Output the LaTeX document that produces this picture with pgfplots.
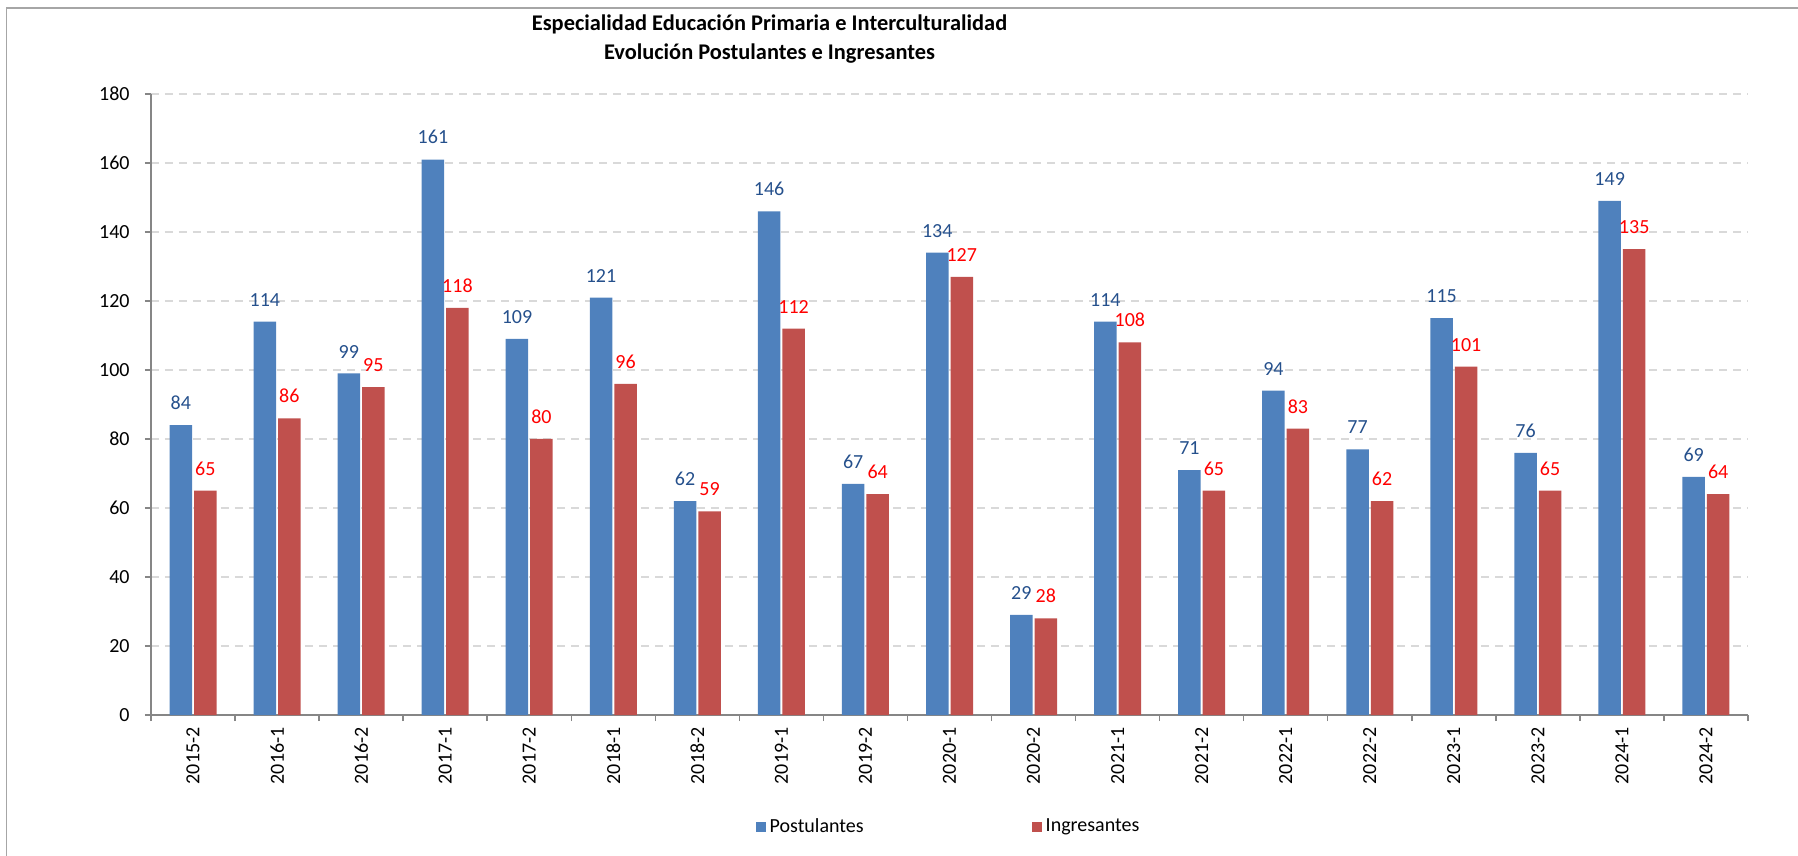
\documentclass[border=0pt]{standalone}
\usepackage{fontspec}
\setmainfont{Carlito}
\usepackage{pgfplots}
\pgfplotsset{compat=1.18}
\definecolor{cblue}{HTML}{4F81BD}
\definecolor{cred}{HTML}{C0504D}
\definecolor{lblue}{HTML}{25508C}
\definecolor{lred}{HTML}{FF0000}
\definecolor{axgray}{HTML}{868686}
\definecolor{gridgray}{HTML}{D9D9D9}
\begin{document}
\begin{tikzpicture}
\path[use as bounding box] (-75.5pt,-70.5pt) rectangle (823.5pt,357.5pt);
\draw[gray!70, line width=0.75pt] (-72.25pt,-70.5pt) -- (-72.25pt,353.5pt) -- (823.5pt,353.5pt);
\begin{axis}[
  at={(0pt,0pt)}, anchor=south west,
  width=798.5pt, height=310.5pt, scale only axis,
  ybar=1pt, bar width=11.25pt,
  xmin=-0.5, xmax=18.5, ymin=0, ymax=180,
  xtick={0,...,18},
  xticklabels={2015-2,2016-1,2016-2,2017-1,2017-2,2018-1,2018-2,2019-1,2019-2,2020-1,2020-2,2021-1,2021-2,2022-1,2022-2,2023-1,2023-2,2024-1,2024-2},
  minor xtick={-0.5,0.5,...,18.5},
  ytick={0,20,...,180},
  axis x line*=bottom, axis y line*=left,
  axis line style={axgray, line width=0.75pt},
  ymajorgrids,
  grid style={gridgray, dash pattern=on 4pt off 3pt, line width=0.6pt},
  tick align=outside,
  major tick length=3pt, minor tick length=3pt,
  tick style={axgray, line width=0.75pt},
  major x tick style={draw=none},
  x tick label style={rotate=90, anchor=east, inner sep=0pt, xshift=-3pt, font=\fontsize{10}{12}\selectfont},
  y tick label style={anchor=east, inner sep=0pt, xshift=-7.5pt, font=\fontsize{10}{12}\selectfont},
  /pgf/number format/assume math mode=true,
  nodes near coords,
  every node near coord/.append style={font=\fontsize{10}{12}\selectfont, inner sep=0pt, anchor=south, yshift=7.5pt},
  legend style={at={(0.5,-0.180)}, anchor=center, draw=none, fill=none,
    legend columns=2, font=\fontsize{10}{12}\selectfont,
    /tikz/every even column/.append style={column sep=82pt},
    inner sep=0pt},
  legend image code/.code={\fill[#1] (0pt,-2.5pt) rectangle (5pt,2.5pt);},
]
\addplot[fill=cblue, draw=none, every node near coord/.append style={text=lblue}] coordinates {
(0,84) (1,114) (2,99) (3,161) (4,109) (5,121) (6,62) (7,146) (8,67) (9,134)
(10,29) (11,114) (12,71) (13,94) (14,77) (15,115) (16,76) (17,149) (18,69)};
\addplot[fill=cred, draw=none, every node near coord/.append style={text=lred}] coordinates {
(0,65) (1,86) (2,95) (3,118) (4,80) (5,96) (6,59) (7,112) (8,64) (9,127)
(10,28) (11,108) (12,65) (13,83) (14,62) (15,101) (16,65) (17,135) (18,64)};
\legend{Postulantes, Ingresantes}
\end{axis}
\node[font=\fontsize{11.2}{14}\selectfont\bfseries, anchor=base] at (309.25pt,342pt) {Especialidad Educación Primaria e Interculturalidad};
\node[font=\fontsize{11.2}{14}\selectfont\bfseries, anchor=base] at (309.25pt,327.5pt) {Evolución Postulantes e Ingresantes};
\end{tikzpicture}
\end{document}
